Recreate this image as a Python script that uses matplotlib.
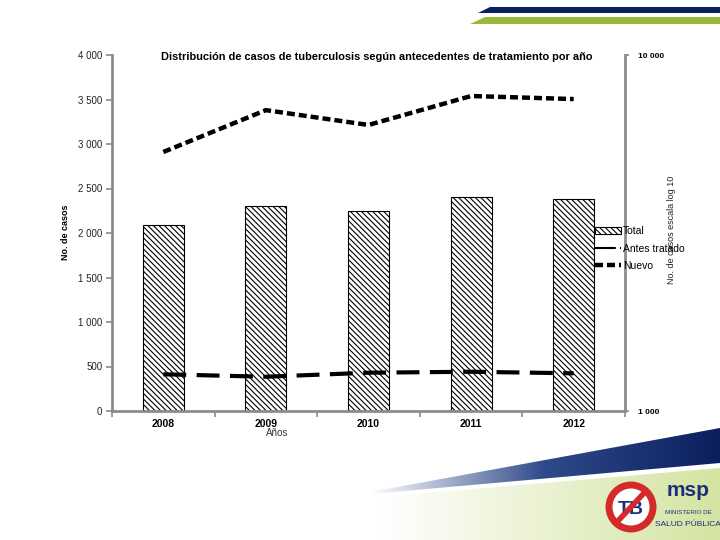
import numpy as np
import matplotlib
matplotlib.use('Agg')
import matplotlib.pyplot as plt
from matplotlib.patches import Polygon, Patch, Circle
from matplotlib.lines import Line2D

plt.rcParams['font.family'] = ['Liberation Sans', 'DejaVu Sans']
plt.rcParams['hatch.linewidth'] = 0.8

years = ['2008', '2009', '2010', '2011', '2012']
total = [2085, 2300, 2245, 2405, 2380]
nuevo = [5340, 7000, 6360, 7670, 7520]
antes_tratado = [1268, 1248, 1281, 1289, 1276]

gris = '#8c8c8c'

fig = plt.figure(figsize=(7.2, 5.4), dpi=100)

# fondo: franjas y logos
bg = fig.add_axes([0, 0, 1, 1], zorder=-1)
bg.set_xlim(0, 720)
bg.set_ylim(540, 0)
bg.axis('off')
bg.add_patch(Polygon([(478, 13), (490, 7), (720, 7), (720, 13)], color='#0b1f5e', lw=0))
bg.add_patch(Polygon([(470, 24), (485, 17), (720, 17), (720, 24)], color='#9ab93a', lw=0))

verde = Polygon([(380, 497), (720, 468), (720, 540), (380, 540)], lw=0, fc='none')
bg.add_patch(verde)
grad = np.linspace(0, 1, 256).reshape(1, -1)
im = bg.imshow(grad, extent=(380, 720, 540, 465), cmap=matplotlib.colors.LinearSegmentedColormap.from_list('g', ['#ffffff', '#d4e4a2']),
               aspect='auto', zorder=1)
im.set_clip_path(verde)
azul = Polygon([(370, 492), (720, 428), (720, 463), (370, 494)], lw=0, fc='none')
bg.add_patch(azul)
im2 = bg.imshow(grad, extent=(370, 720, 495, 425), cmap=matplotlib.colors.LinearSegmentedColormap.from_list('b', ['#ffffff', '#2f4a8a', '#0b1f5e']),
                aspect='auto', zorder=2)
im2.set_clip_path(azul)
bg.add_patch(Circle((631, 507), 22, fc='white', ec='#d42a2a', lw=5, zorder=3))
bg.text(631, 509, 'TB', ha='center', va='center', fontsize=14, fontweight='bold', color='#1b2f7a', zorder=4)
bg.plot([617, 645], [522, 492], color='#d42a2a', lw=4, zorder=5)
bg.text(688, 490, 'msp', ha='center', va='center', fontsize=15, fontweight='bold', color='#1b2f7a', zorder=3)
bg.text(688, 513, 'MINISTERIO DE', ha='center', va='center', fontsize=4.5, color='#1b2f7a', zorder=3)
bg.text(688, 525, 'SALUD PÚBLICA', ha='center', va='center', fontsize=6, color='#1b2f7a', zorder=3)

# grafico principal
ax = fig.add_axes([112 / 720, 1 - 411 / 540, 513 / 720, 356 / 540])
ax.set_facecolor('none')
x = np.arange(len(years))
ax.bar(x, total, width=0.4, color='white', edgecolor='black', hatch='\\\\\\\\\\\\', lw=0.8, zorder=2)
ax.set_xlim(-0.5, len(years) - 0.5)
ax.set_ylim(0, 4000)
ax.set_yticks(range(0, 4001, 500))
ax.set_yticklabels([f'{v:,}'.replace(',', ' ') for v in range(0, 4001, 500)], fontsize=7, color='#222222')
ax.set_xticks(x)
ax.set_xticklabels(years, fontsize=7.5, fontweight='bold')
ax.set_xticks(np.arange(-0.5, len(years)), minor=True)
ax.tick_params(axis='x', which='major', length=0, pad=6)
ax.tick_params(axis='x', which='minor', length=4, color=gris, width=1.2)
ax.tick_params(axis='y', length=4, color=gris, width=1.2, pad=3)
for s in ['top', 'right']:
    ax.spines[s].set_visible(False)
for s in ['left', 'bottom']:
    ax.spines[s].set_color(gris)
    ax.spines[s].set_linewidth(2)

ax2 = ax.twinx()
ax2.set_yscale('log')
ax2.set_ylim(1000, 10000)
ax2.plot(x, nuevo, color='black', lw=3.2, dashes=(1.8, 0.9), dash_capstyle='butt', zorder=3)
ax2.plot(x, antes_tratado, color='black', lw=3, dashes=(5.5, 2.5), dash_capstyle='butt', zorder=3)
ax2.set_yticks([1000, 10000])
ax2.set_yticklabels(['1 000', '10 000'], fontsize=6, fontweight='bold')
ax2.yaxis.set_minor_locator(matplotlib.ticker.NullLocator())
ax2.tick_params(axis='y', length=3, color=gris, width=1.2, pad=6)
for s in ['top', 'left', 'bottom']:
    ax2.spines[s].set_visible(False)
ax2.spines['right'].set_color(gris)
ax2.spines['right'].set_linewidth(2)

fig.text(377 / 720, 1 - 57 / 540, 'Distribución de casos de tuberculosis según antecedentes de tratamiento por año',
         ha='center', va='center', fontsize=7.9, fontweight='bold')
fig.text(66 / 720, 1 - 232 / 540, 'No. de casos', rotation=90, ha='center', va='center', fontsize=6.5, fontweight='bold')
fig.text(672 / 720, 1 - 230 / 540, 'No. de casos escala log 10', rotation=90, ha='center', va='center', fontsize=6.5, color='#222222')
fig.text(277 / 720, 1 - 433 / 540, 'Años', ha='center', va='center', fontsize=7, color='#333333')

handles = [Patch(fc='white', ec='black', hatch='\\\\\\\\\\\\', lw=0.8),
           Line2D([], [], color='black', lw=1.5, dashes=(10, 2)),
           Line2D([], [], color='black', lw=3.2, dashes=(1.8, 0.9))]
fig.legend(handles, ['Total', 'Antes tratado', 'Nuevo'], loc='upper left',
           bbox_to_anchor=(590 / 720, 1 - 221 / 540), frameon=False, fontsize=7.5,
           handlelength=2.5, handleheight=0.6, handletextpad=0.15, labelspacing=0.7, borderpad=0)

fig.savefig('out.png', dpi=100)
